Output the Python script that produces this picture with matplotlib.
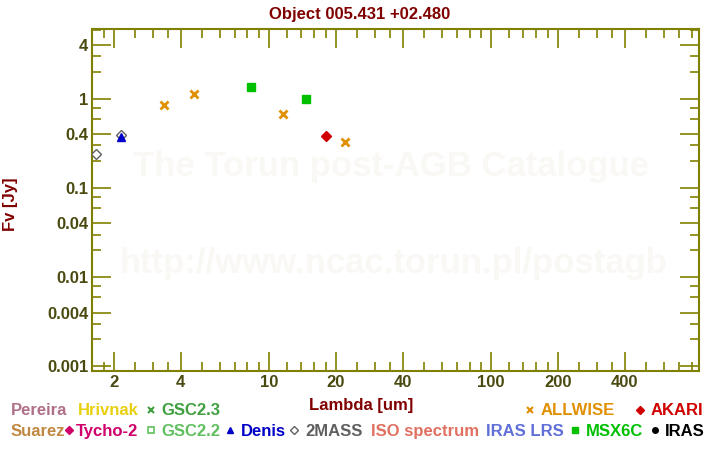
import numpy as np
import matplotlib
matplotlib.use('Agg')
import matplotlib.pyplot as plt
from matplotlib.ticker import FixedLocator, NullFormatter

plt.rcParams['font.family'] = ['Liberation Sans', 'DejaVu Sans']
plt.rcParams['font.weight'] = 'bold'

# photometry (wavelength um, flux Jy)
twomass_wl = [1.662, 2.159]
twomass_f = [0.239, 0.39]
denis_wl = [2.15]
denis_f = [0.371]
allwise_wl = [3.35, 4.6, 11.56, 22.08]
allwise_f = [0.848, 1.126, 0.671, 0.326]
msx_wl = [8.28, 14.65]
msx_f = [1.349, 0.99]
akari_wl = [18.0]
akari_f = [0.38]

xticks = [2, 4, 10, 20, 40, 100, 200, 400]
xticklabels = ['2', '4', '10', '20', '40', '100', '200', '400']
yticks = [0.001, 0.004, 0.01, 0.04, 0.1, 0.4, 1, 4]
yticklabels = ['0.001', '0.004', '0.01', '0.04', '0.1', '0.4', '1', '4']
xminor_steps = [1.2, 1.4, 1.6, 1.8, 2.5, 3, 3.5, 5, 6, 7, 8, 9]
yminor_steps = [2, 3, 6, 8]

# legend rows: (label, colour, text x, marker, marker x)
legend_row1 = [('Pereira', '#b0708a', 11, None, 0),
               ('Hrivnak', '#e8d010', 78, None, 0),
               ('GSC2.3', '#40a040', 161, 'x', 151),
               ('ALLWISE', '#e09000', 541, 'x', 530),
               ('AKARI', '#d00000', 651, 'D', 640)]
legend_row2 = [('Suarez', '#c08840', 11, None, 0),
               ('Tycho-2', '#d0006a', 76, 'D', 69),
               ('GSC2.2', '#60c060', 161, 's_open', 151),
               ('Denis', '#0000c8', 241, '^', 230),
               ('2MASS', '#606060', 305, 'D_open', 294),
               ('ISO spectrum', '#e07060', 371, None, 0),
               ('IRAS LRS', '#6070d8', 486, None, 0),
               ('MSX6C', '#00c000', 586, 's', 575),
               ('IRAS', '#000000', 665, 'o', 655)]

olive = '#808000'
ticklab = '#4a4a10'
darkred = '#800000'

fig = plt.figure(figsize=(7.2, 4.5), dpi=100)
ax = fig.add_axes([92.3/720, 1-371.3/450, (699.3-92.3)/720, (371.3-29.3)/450])
ov = fig.add_axes([0, 0, 1, 1])
ov.set_xlim(0, 720)
ov.set_ylim(450, 0)
ov.axis('off')
ov.patch.set_visible(False)

ax.set_xscale('log')
ax.set_yscale('log')
ax.set_xlim(1.6, 867)
ax.set_ylim(0.000877, 6.04)

ax.plot(twomass_wl, twomass_f, 'D', ms=5, mfc='white', mec='#606060', mew=1, zorder=3)
ax.plot(denis_wl, denis_f, '^', ms=5.5, color='#0000c8', zorder=4)
ax.plot(allwise_wl, allwise_f, 'x', ms=5.5, mew=2, color='#e09000', zorder=3)
ax.plot(msx_wl, msx_f, 's', ms=5.2, color='#00c000', zorder=3)
ax.plot(akari_wl, akari_f, 'D', ms=5.5, color='#d00000', zorder=3)

# watermark
ax.text(391, 176, 'The Torun post-AGB Catalogue', transform=ov.transData,
        ha='center', va='baseline', fontsize=25, color='#faf8f4', zorder=0)
ax.text(393, 273, 'http://www.ncac.torun.pl/postagb', transform=ov.transData,
        ha='center', va='baseline', fontsize=25, color='#faf8f4', zorder=0)

ax.xaxis.set_major_locator(FixedLocator(xticks))
ax.set_xticklabels(xticklabels)
ax.xaxis.set_minor_locator(FixedLocator([s*d for d in [1, 10, 100] for s in xminor_steps]))
ax.xaxis.set_minor_formatter(NullFormatter())
ax.yaxis.set_major_locator(FixedLocator(yticks))
ax.set_yticklabels(yticklabels)
ax.yaxis.set_minor_locator(FixedLocator([s*d for d in [0.0001, 0.001, 0.01, 0.1, 1] for s in yminor_steps]))
ax.yaxis.set_minor_formatter(NullFormatter())

ax.tick_params(which='both', direction='in', top=True, right=True, color=olive,
               labelcolor=ticklab, labelsize=12, width=1.2, pad=3)
ax.tick_params(which='major', length=13.5)
ax.tick_params(which='minor', length=6.7)
for s in ax.spines.values():
    s.set_color(olive)
    s.set_linewidth(1.5)

ov.text(360, 19, 'Object 005.431 +02.480', ha='center', va='baseline', fontsize=12, color=darkred)
ov.text(361, 410, 'Lambda [um]', ha='center', va='baseline', fontsize=12, color=darkred)
ov.text(10.5, 204, 'Fv [Jy]', ha='center', va='center', rotation=90, fontsize=12, color=darkred)

for row, ybase, ymark in [(legend_row1, 415, 410), (legend_row2, 436, 430)]:
    for label, col, tx, mk, mx in row:
        ov.text(tx, ybase, label, ha='left', va='baseline', fontsize=12, color=col)
        if mk == 'x':
            ov.plot(mx, ymark, 'x', ms=4.5, mew=1.5, color=col)
        elif mk == 'D':
            ov.plot(mx, ymark, 'D', ms=4, color=col)
        elif mk == 'D_open':
            ov.plot(mx, ymark, 'D', ms=4, mfc='white', mec=col, mew=1)
        elif mk == 's_open':
            ov.plot(mx, ymark, 's', ms=4, mfc='white', mec=col, mew=1.2)
        elif mk == 's':
            ov.plot(mx, ymark, 's', ms=4.5, color=col)
        elif mk == '^':
            ov.plot(mx, ymark, '^', ms=5, color=col)
        elif mk == 'o':
            ov.plot(mx, ymark, 'o', ms=4, color=col)

fig.savefig('out.png', dpi=100)
